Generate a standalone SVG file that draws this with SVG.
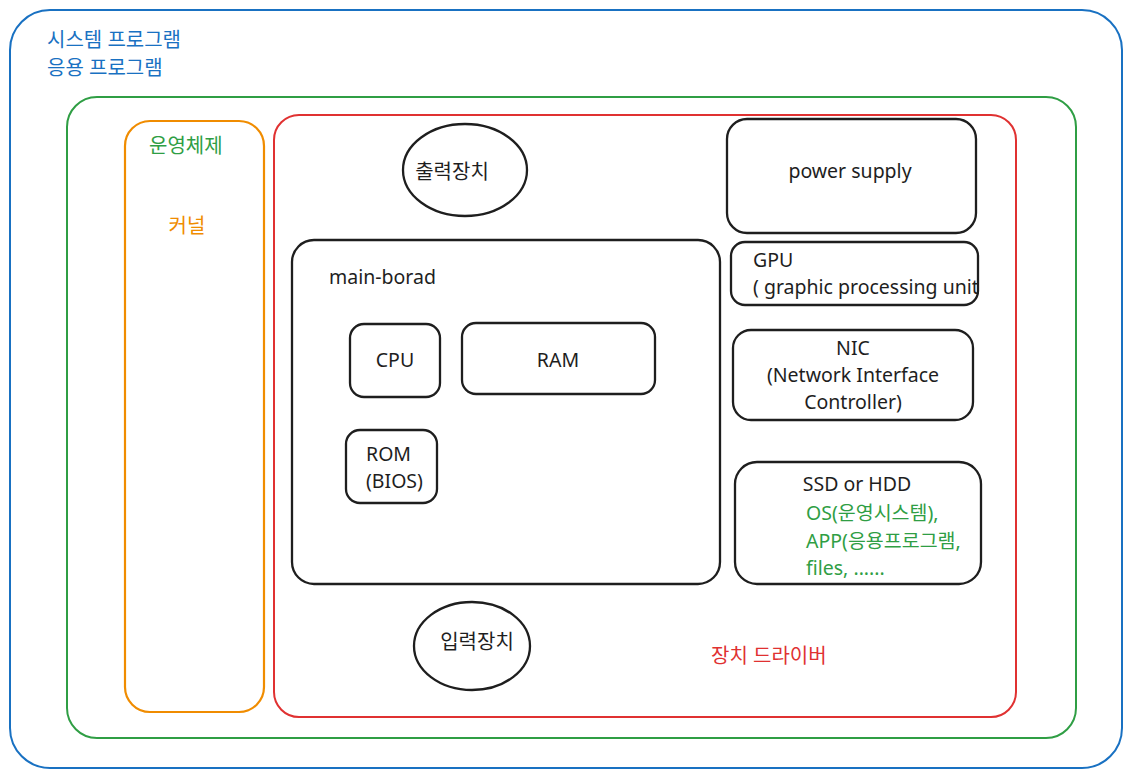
<svg xmlns="http://www.w3.org/2000/svg" width="1131" height="776" viewBox="0 0 1131 776">
<style>
text{font-family:"Noto Sans","Noto Sans CJK KR",sans-serif;font-size:19.5px;fill:#1e1e1e}
.box{fill:none;stroke:#1e1e1e;stroke-width:2.3}
.k{font-size:20px}
.blue{fill:#1971c2}.green{fill:#2f9e44}.orange{fill:#f08c00}.red{fill:#e03131}
.mid{text-anchor:middle}
</style>
<rect width="1131" height="776" fill="#fff"/>
<g id="system">
<rect x="10" y="10" width="1112" height="758" rx="40" fill="none" stroke="#1971c2" stroke-width="2"/>
<text x="47" y="47" class="k blue">시스템 프로그램</text>
<text x="47" y="75" class="k blue">응용 프로그램</text>
</g>
<g id="os">
<rect x="67" y="97" width="1009" height="641" rx="30" fill="none" stroke="#2f9e44" stroke-width="2"/>
<text x="149" y="153" class="k green">운영체제</text>
</g>
<g id="kernel">
<rect x="125" y="121" width="139" height="591" rx="25" fill="none" stroke="#f08c00" stroke-width="2.2"/>
<text x="187" y="233" class="k orange mid">커널</text>
</g>
<g id="driver">
<rect x="274" y="115" width="742" height="602" rx="25" fill="none" stroke="#e03131" stroke-width="2"/>
<text x="711" y="663" class="k red">장치 드라이버</text>
</g>
<g id="output">
<ellipse cx="465" cy="170" rx="62" ry="46" class="box" stroke-width="2.8"/>
<text x="452" y="179" class="k mid">출력장치</text>
</g>
<g id="input">
<ellipse cx="472" cy="646" rx="58" ry="44" class="box" stroke-width="2.8"/>
<text x="477" y="649" class="k mid">입력장치</text>
</g>
<g id="mainboard">
<rect x="292" y="240" width="428" height="344" rx="22" class="box"/>
<text x="329" y="284">main-borad</text>
</g>
<g id="cpu">
<rect x="350" y="324" width="90" height="73" rx="14" class="box"/>
<text x="395" y="367" class="mid">CPU</text>
</g>
<g id="ram">
<rect x="462" y="323" width="193" height="71" rx="14" class="box"/>
<text x="558" y="367" class="mid">RAM</text>
</g>
<g id="rom">
<rect x="346" y="430" width="91" height="73" rx="14" class="box"/>
<text x="366" y="461">ROM</text>
<text x="366" y="488">(BIOS)</text>
</g>
<g id="power">
<rect x="727" y="119" width="249" height="114" rx="20" class="box"/>
<text x="850" y="178" class="mid">power supply</text>
</g>
<g id="gpu">
<rect x="731" y="242" width="247" height="63" rx="14" class="box"/>
<text x="753" y="267">GPU</text>
<text x="753" y="294">( graphic processing unit</text>
</g>
<g id="nic">
<rect x="733" y="330" width="240" height="90" rx="18" class="box"/>
<text x="853" y="355" class="mid">NIC</text>
<text x="853" y="382" class="mid">(Network Interface</text>
<text x="853" y="409" class="mid">Controller)</text>
</g>
<g id="ssd">
<rect x="735" y="462" width="246" height="122" rx="22" class="box"/>
<text x="857" y="491" class="mid">SSD or HDD</text>
<text x="806" y="520" class="green">OS(운영시스템),</text>
<text x="806" y="548" class="green">APP(응용프로그램,</text>
<text x="806" y="575" class="green">files, ......</text>
</g>
<g id="connectors"/>
</svg>
